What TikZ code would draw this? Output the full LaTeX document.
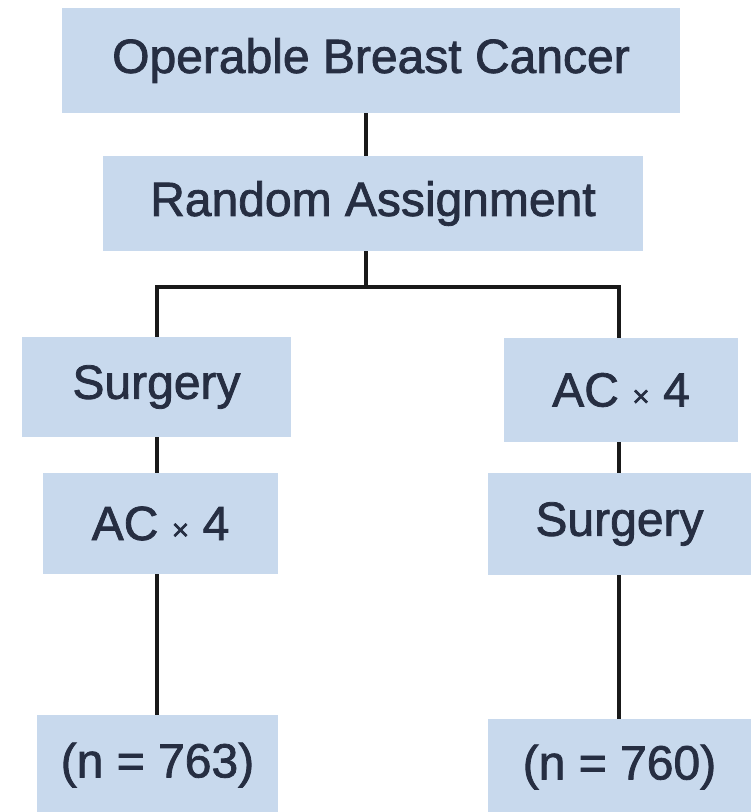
\documentclass[tikz,border=0pt]{standalone}
\usepackage{fontspec}
\setmainfont[FakeBold=1.6]{Liberation Sans}
\definecolor{boxfill}{HTML}{C8D9ED}
\definecolor{txt}{HTML}{262E42}
\begin{document}
\begin{tikzpicture}[x=1pt,y=-1pt,
  box/.style={fill=boxfill,draw=none,inner sep=0pt,text=txt,
    font=\fontsize{48}{54}\selectfont},
  conn/.style={line width=4.5pt,black!90}]
\useasboundingbox (0,0) rectangle (751,812);
\node[box,minimum width=618,minimum height=105] (b1) at (371,60.5) {Operable Breast Cancer};
\node[box,minimum width=540,minimum height=95] (b2) at (373,203.5) {Random Assignment};
\coordinate (split) at (366,287);
\coordinate (L) at (157,287);
\coordinate (R) at (619,287);
\node[box,minimum width=269,minimum height=100] (sL) at (156.5,387) {Surgery};
\node[box,minimum width=235,minimum height=101] (aL) at (160.5,523.5) {AC {\fontsize{30}{30}\selectfont ×} 4};
\node[box,minimum width=241,minimum height=100] (nL) at (157.5,765) {(n = 763)};
\node[box,minimum width=234,minimum height=104] (aR) at (621,390) {AC {\fontsize{30}{30}\selectfont ×} 4};
\node[box,minimum width=263,minimum height=102] (sR) at (619.5,524) {Surgery};
\node[box,minimum width=263,minimum height=96] (nR) at (619.5,767) {(n = 760)};
\draw[conn] (b1.south -| split) -- (b2.north -| split);
\draw[conn] (b2.south -| split) -- (split);
\draw[conn,line cap=rect] (L) -- (R);
\draw[conn] (L) -- (sL.north -| L);
\draw[conn] (sL.south -| L) -- (aL.north -| L);
\draw[conn] (aL.south -| L) -- (nL.north -| L);
\draw[conn] (R) -- (aR.north -| R);
\draw[conn] (aR.south -| R) -- (sR.north -| R);
\draw[conn] (sR.south -| R) -- (nR.north -| R);
\end{tikzpicture}
\end{document}
